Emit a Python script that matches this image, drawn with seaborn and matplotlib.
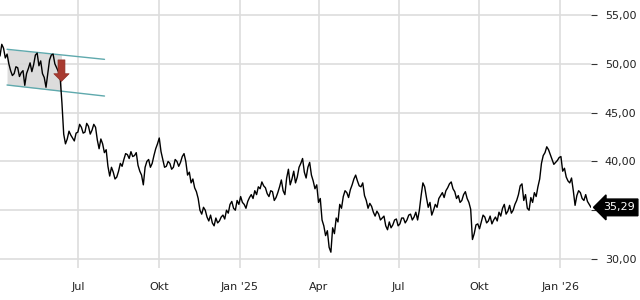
import numpy as np
import pandas as pd
import matplotlib
matplotlib.use("Agg")
import matplotlib.pyplot as plt
import seaborn as sns

# ---- data ----
start_date = "2024-04-03"
end_date = "2026-02-05"
prices = [
    50.8, 52.0, 51.6, 50.6, 51.0, 50.0, 49.3, 48.8, 49.0, 49.7,
    49.6, 48.7, 49.1, 49.3, 47.8, 49.0, 49.5, 50.1, 49.2, 49.9,
    50.9, 51.1, 49.8, 50.3, 49.0, 48.6, 47.6, 49.0, 50.4, 50.9,
    51.0, 50.0, 49.6, 49.2, 48.6, 46.0, 42.8, 41.8, 42.3, 43.1,
    42.7, 42.4, 42.1, 42.9, 43.0, 43.8, 43.5, 42.9, 43.0, 43.9,
    43.6, 42.8, 43.2, 43.8, 43.5, 42.2, 41.3, 42.3, 41.8, 40.9,
    41.2, 39.5, 38.5, 39.4, 38.9, 38.2, 38.4, 39.0, 39.8, 39.5,
    40.2, 40.8, 40.7, 40.3, 41.0, 40.5, 40.6, 40.9, 39.6, 39.0,
    38.6, 37.6, 39.4, 40.0, 40.2, 39.4, 39.8, 40.6, 41.3, 41.8,
    42.4, 41.0, 40.2, 39.4, 39.5, 40.0, 39.8, 39.2, 39.4, 40.2,
    40.0, 39.5, 39.9, 40.5, 40.8, 40.0, 38.6, 38.9, 37.8, 38.2,
    37.3, 36.9, 36.2, 35.0, 34.6, 35.3, 35.0, 34.3, 33.9, 34.5,
    33.7, 33.4, 34.2, 33.7, 33.9, 34.3, 34.5, 34.1, 35.0, 34.7,
    35.6, 35.9, 35.2, 35.0, 36.0, 35.6, 36.4, 35.8, 35.6, 35.2,
    35.9, 36.3, 36.6, 36.2, 37.0, 36.6, 37.4, 37.2, 37.9, 37.5,
    37.3, 36.7, 36.4, 37.0, 36.9, 36.0, 36.3, 36.8, 37.4, 38.1,
    37.0, 36.6, 38.3, 39.2, 37.6, 38.2, 39.0, 37.8, 38.4, 39.4,
    39.8, 40.3, 38.9, 38.3, 39.4, 39.9, 38.6, 38.0, 37.2, 37.6,
    35.8, 36.2, 34.0, 33.4, 32.4, 32.9, 31.2, 30.7, 33.2, 32.6,
    34.2, 33.8, 35.6, 35.2, 36.4, 37.0, 36.8, 36.3, 37.1, 37.6,
    38.2, 38.6, 38.0, 37.5, 37.4, 37.8, 36.5, 36.0, 35.2, 35.7,
    35.4, 34.8, 34.4, 34.9, 34.6, 34.0, 34.2, 34.4, 33.4, 33.0,
    33.8, 33.2, 33.5, 34.0, 34.1, 33.4, 33.6, 34.2, 34.2, 33.7,
    34.0, 34.5, 34.6, 34.0, 34.3, 34.8, 34.0, 35.0, 36.5, 37.8,
    37.4, 36.3, 35.3, 35.8, 34.5, 35.0, 35.6, 35.3, 36.2, 36.5,
    36.8, 36.3, 37.0, 37.3, 37.7, 37.9, 37.2, 36.9, 36.2, 36.5,
    35.8, 36.0, 36.6, 36.9, 36.2, 35.8, 35.1, 32.0, 32.6, 33.5,
    33.6, 33.1, 33.8, 34.5, 34.3, 33.7, 33.9, 34.4, 33.6, 34.0,
    34.3, 33.9, 34.8, 34.4, 35.2, 35.6, 34.6, 34.9, 35.5, 34.7,
    35.0, 35.6, 36.0, 36.6, 37.5, 37.7, 36.0, 36.6, 35.2, 35.0,
    36.3, 35.8, 36.8, 36.4, 37.4, 38.2, 39.8, 40.6, 40.9, 41.5,
    41.2, 40.7, 40.2, 39.7, 39.9, 40.1, 40.4, 40.5, 39.0, 39.3,
    38.4, 38.0, 37.8, 38.3, 37.0, 35.5, 36.5, 37.0, 36.8, 36.2,
    36.0, 36.6, 35.9, 35.6, 35.29,
]
last_label = "35,29"

x_ticks = ["2024-07-01", "2024-10-01", "2025-01-01", "2025-04-01",
           "2025-07-01", "2025-10-01", "2026-01-01"]
x_tick_labels = ["Jul", "Okt", "Jan '25", "Apr", "Jul", "Okt", "Jan '26"]
y_ticks = [30, 35, 40, 45, 50, 55]
# the 35,00 label is hidden behind the last-value badge in the reference
y_tick_labels = ["30,00", "", "40,00", "45,00", "50,00", "55,00"]

# trend channel
chan_dates = ["2024-04-11", "2024-07-31"]
chan_upper = [51.49, 50.46]
chan_lower = [47.83, 46.70]
fill_end = "2024-06-12"
arrow_date = "2024-06-12"
arrow_from = 50.4
arrow_to = 48.2

dates = pd.date_range(start_date, end_date, periods=len(prices))
df = pd.DataFrame({"date": dates, "price": prices})

sns.set_style("white")
plt.rcParams["font.family"] = ["DejaVu Sans"]

fig = plt.figure(figsize=(6.4, 3.0), dpi=100)
ax = fig.add_axes([0.0, 32 / 300, 591 / 640, 268 / 300])

xmin = pd.Timestamp("2024-04-03")
xmax = pd.Timestamp("2026-02-05")
ax.set_xlim(xmin, xmax)
ax.set_ylim(29.08, 56.54)

grid_c = "#dddddd"
for yt in y_ticks:
    ax.axhline(yt, color=grid_c, lw=1.2, zorder=0)
for xt in x_ticks:
    ax.axvline(pd.Timestamp(xt), color=grid_c, lw=1.2, zorder=0)

# channel
cd = pd.to_datetime(chan_dates)
ax.plot(cd, chan_upper, color="#5fa9ad", lw=1.0, zorder=2)
ax.plot(cd, chan_lower, color="#5fa9ad", lw=1.0, zorder=2)
fe = pd.Timestamp(fill_end)
frac = (fe - cd[0]) / (cd[1] - cd[0])
fu = chan_upper[0] + frac * (chan_upper[1] - chan_upper[0])
fl = chan_lower[0] + frac * (chan_lower[1] - chan_lower[0])
ax.fill_between([cd[0], fe], [chan_upper[0], fu], [chan_lower[0], fl],
                color="#d9d9d9", alpha=0.9, lw=0, zorder=1)

sns.lineplot(data=df, x="date", y="price", ax=ax, color="black", lw=1.0,
             zorder=3)

ad = pd.Timestamp(arrow_date)
ax.annotate("", xy=(ad, arrow_to), xytext=(ad, arrow_from),
            arrowprops=dict(width=5, headwidth=11, headlength=5.5,
                            facecolor="#a83a30", edgecolor="#8e2f27",
                            lw=0.5), zorder=4)

for s in ax.spines.values():
    s.set_visible(False)
ax.set_xlabel("")
ax.set_ylabel("")

ax.set_xticks(pd.to_datetime(x_ticks))
ax.set_xticklabels(x_tick_labels, fontsize=8, color="#222222")
ax.tick_params(axis="x", length=0, pad=10)

ax.yaxis.tick_right()
ax.set_yticks(y_ticks)
ax.set_yticklabels(y_tick_labels, fontsize=8, color="#222222")
ax.tick_params(axis="y", length=4, width=0.8, color="#333333", pad=6,
               right=True, left=False, direction="out")

# tick marks under x labels
ax2 = fig.add_axes([0.0, 6 / 300, 591 / 640, 1e-4])
ax2.set_xlim(xmin, xmax)
ax2.set_xticks(pd.to_datetime(x_ticks))
ax2.set_xticklabels([])
ax2.set_yticks([])
ax2.tick_params(axis="x", length=4, width=0.8, color="#333333")
for s in ax2.spines.values():
    s.set_visible(False)
ax2.patch.set_visible(False)

# last value badge
last_y = prices[-1]
ax.annotate(last_label, xy=(1.0, last_y), xycoords=("axes fraction", "data"),
            xytext=(8.5, 0), textcoords="offset points", fontsize=8,
            color="white", va="center", ha="left",
            bbox=dict(boxstyle="larrow,pad=0.3", fc="black", ec="black"),
            annotation_clip=False, zorder=5)

fig.savefig("out.png", dpi=100)
